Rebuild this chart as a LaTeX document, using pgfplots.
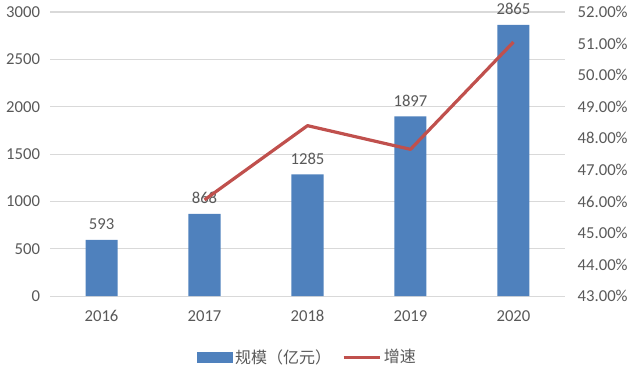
\documentclass[border=0pt]{standalone}
\usepackage{pgfplots}
\pgfplotsset{compat=1.18}
\usepackage{fontspec}
\setmainfont{Carlito}
\newfontfamily\cjk{Noto Sans CJK SC}
\usetikzlibrary{calc}
\definecolor{barblue}{HTML}{4F81BD}
\definecolor{linered}{HTML}{C0504D}
\definecolor{gridgray}{HTML}{D9D9D9}
\definecolor{txtgray}{HTML}{595959}
\begin{document}
\begin{tikzpicture}
\pgfplotsset{
  common/.style={
    scale only axis, width=386pt, height=213pt,
    xmin=-0.5, xmax=4.5,
    axis line style={draw=none},
    tick style={draw=none},
    ticklabel style={text=txtgray, font=\fontsize{12.5}{14}\selectfont},
    /pgf/number format/assume math mode=true,
  }
}
\begin{axis}[common, name=ax,
  ymin=0, ymax=3000, ytick={0,500,...,3000},
  ymajorgrids, grid style={gridgray, line width=0.8pt},
  xtick={0,1,2,3,4}, xticklabels={2016,2017,2018,2019,2020},
  xticklabel style={yshift=-3pt},
  yticklabel style={/pgf/number format/1000 sep={}, xshift=-4pt},
  ybar, bar width=24pt,
  nodes near coords,
  nodes near coords style={text=txtgray, font=\fontsize{12.5}{14}\selectfont, /pgf/number format/1000 sep={}, yshift=4pt},
]
\addplot[fill=barblue, draw=none] coordinates {(0,593) (1,868) (2,1285) (3,1897) (4,2865)};
\end{axis}
\begin{axis}[common,
  axis y line*=right, axis x line=none,
  ymin=43, ymax=52, ytick={43,44,...,52},
  yticklabel style={xshift=6pt},
  yticklabel={\pgfmathprintnumber[fixed,fixed zerofill,precision=2]{\tick}\%},
  legend columns=2,
  legend style={at={(0.5,-0.215)}, anchor=center, draw=none, fill=none,
    font=\cjk\fontsize{12}{14}\selectfont, text=txtgray,
    /tikz/every even column/.append style={column sep=6pt}},
]
\addlegendimage{area legend, fill=barblue, draw=none,
  legend image code/.code={\fill[barblue] (0pt,-4pt) rectangle (27pt,4pt);}}
\addlegendentry{规模（亿元）}
\addplot[linered, line width=2.4pt, line join=round,
  legend image code/.code={\draw[linered, line width=2.4pt] (0pt,0pt) -- (27pt,0pt);}]
  coordinates {(1,46.05) (2,48.40) (3,47.65) (4,51.05)};
\addlegendentry{增速}
\end{axis}
\pgfresetboundingbox
\path ($(ax.south west)+(-37.5pt,-52.5pt)$) rectangle ($(ax.north east)+(56.25pt,9pt)$);
\end{tikzpicture}
\end{document}
